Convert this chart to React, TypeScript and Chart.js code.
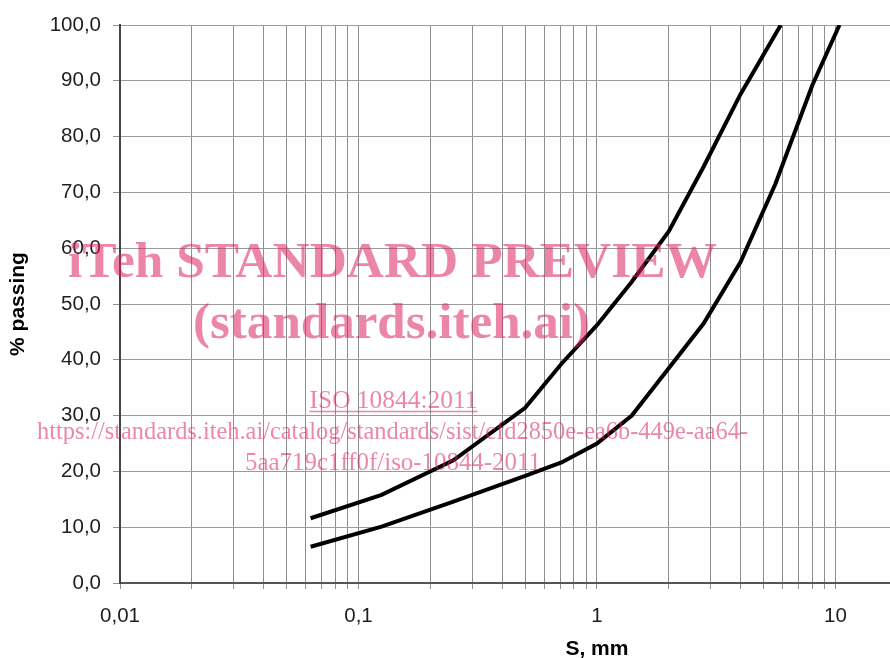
import React, { useEffect, useRef } from 'react';
import { Chart, registerables } from 'chart.js';

Chart.register(...registerables);

// Grading envelope (sieve size in mm, % passing)
const upperSizes = [0.063, 0.125, 0.25, 0.5, 0.71, 1, 1.4, 2, 2.8, 4, 5.9];
const upperPassing = [11.6, 15.8, 22.0, 31.4, 39.3, 46.2, 54.0, 63.0, 74.6, 87.6, 100];
const lowerSizes = [0.063, 0.125, 0.25, 0.5, 0.71, 1, 1.4, 2, 2.8, 4, 5.6, 8, 10.4];
const lowerPassing = [6.5, 10.1, 14.6, 19.2, 21.6, 25.0, 30.0, 38.5, 46.5, 57.5, 71.5, 89.2, 100];

// Axis ticks
const decadeTicks = [0.01, 0.1, 1, 10, 100];
const decadeLabels = ['0,01', '0,1', '1', '10', '100'];
const minorMultipliers = [2, 3, 4, 5, 6, 7, 8, 9];
const yTickValues = [0, 10, 20, 30, 40, 50, 60, 70, 80, 90, 100];

const xTitle = 'S, mm';
const yTitle = '% passing';

const watermarkTexts = [
  'iTeh STANDARD PREVIEW',
  '(standards.iteh.ai)',
  'ISO 10844:2011',
  'https://standards.iteh.ai/catalog/standards/sist/cfd2850e-ea6b-449e-aa64-',
  '5aa719c1ff0f/iso-10844-2011',
];

const SANS = "'Liberation Sans', Arial, sans-serif";
const SERIF = "'Liberation Serif', 'Times New Roman', serif";

const watermarkLayout = [
  { font: `bold 51px ${SERIF}`, cx: 392.5, y: 277, w: 649, underline: false },
  { font: `bold 51px ${SERIF}`, cx: 391.5, y: 338, w: 397, underline: false },
  { font: `25px ${SERIF}`, cx: 393.5, y: 408, w: 168, underline: true },
  { font: `24.5px ${SERIF}`, cx: 392.5, y: 439, w: 711, underline: false },
  { font: `24.5px ${SERIF}`, cx: 393, y: 470, w: 296, underline: false },
];

const watermarkPlugin = {
  id: 'watermark',
  afterDraw(chart: any) {
    const ctx = chart.ctx as CanvasRenderingContext2D;
    ctx.save();
    ctx.fillStyle = 'rgba(220,35,97,0.55)';
    ctx.strokeStyle = 'rgba(220,35,97,0.55)';
    ctx.textAlign = 'center';
    ctx.textBaseline = 'alphabetic';
    watermarkTexts.forEach((text, i) => {
      const l = watermarkLayout[i];
      ctx.font = l.font;
      const mw = ctx.measureText(text).width;
      ctx.save();
      ctx.translate(l.cx, l.y);
      ctx.scale(l.w / mw, 1);
      ctx.fillText(text, 0, 0);
      ctx.restore();
      if (l.underline) {
        ctx.lineWidth = 1.5;
        ctx.beginPath();
        ctx.moveTo(l.cx - l.w / 2, l.y + 3.5);
        ctx.lineTo(l.cx + l.w / 2, l.y + 3.5);
        ctx.stroke();
      }
    });
    ctx.restore();
  },
};

export default function App() {
  const ref = useRef<HTMLCanvasElement>(null);

  useEffect(() => {
    if (!ref.current) return;
    const xGridValues: number[] = [];
    decadeTicks.forEach((d, i) => {
      xGridValues.push(d);
      if (i < decadeTicks.length - 1) minorMultipliers.forEach((m) => xGridValues.push(+(d * m).toPrecision(6)));
    });

    const chart = new Chart(ref.current, {
      type: 'line',
      data: {
        datasets: [
          {
            label: 'upper',
            data: upperSizes.map((x, i) => ({ x, y: upperPassing[i] })),
            borderColor: '#000',
            borderWidth: 4,
            pointRadius: 0,
            tension: 0,
            fill: false,
          },
          {
            label: 'lower',
            data: lowerSizes.map((x, i) => ({ x, y: lowerPassing[i] })),
            borderColor: '#000',
            borderWidth: 4,
            pointRadius: 0,
            tension: 0,
            fill: false,
          },
        ],
      },
      options: {
        animation: false,
        responsive: false,
        events: [],
        layout: { padding: { left: 0, top: 25, right: 20, bottom: 0 } },
        plugins: { legend: { display: false }, tooltip: { enabled: false } },
        scales: {
          x: {
            type: 'logarithmic',
            min: 0.01,
            max: 100,
            afterBuildTicks: (scale: any) => {
              scale.ticks = xGridValues.map((v) => ({ value: v }));
            },
            afterFit: (scale: any) => {
              scale.height = 81;
            },
            ticks: {
              autoSkip: false,
              maxRotation: 0,
              minRotation: 0,
              padding: 15,
              color: '#1e1e1e',
              font: { family: SANS, size: 20.5 },
              callback: (v: any) => {
                const idx = decadeTicks.findIndex((d) => Math.abs(d - Number(v)) < 1e-9);
                return idx >= 0 ? decadeLabels[idx] : '';
              },
            },
            grid: { color: '#8f8f8f', lineWidth: 1, tickLength: 6, tickColor: '#8f8f8f' },
            border: { color: '#555', width: 2 },
            title: {
              display: true,
              text: xTitle,
              color: '#000',
              font: { family: SANS, size: 21, weight: 'bold' },
              padding: { top: 0, bottom: 2 },
            },
          },
          y: {
            type: 'linear',
            min: 0,
            max: 100,
            afterBuildTicks: (scale: any) => {
              scale.ticks = yTickValues.map((v) => ({ value: v }));
            },
            afterFit: (scale: any) => {
              scale.width = 120;
            },
            ticks: {
              padding: 12,
              color: '#1e1e1e',
              font: { family: SANS, size: 20.5 },
              callback: (v: any) => Number(v).toFixed(1).replace('.', ','),
            },
            grid: { color: '#9a9a9a', lineWidth: 1, tickLength: 7, tickColor: '#8f8f8f' },
            border: { color: '#444', width: 2 },
            title: {
              display: true,
              text: yTitle,
              color: '#000',
              font: { family: SANS, size: 21, weight: 'bold' },
              padding: { top: 6, bottom: 0 },
            },
          },
        },
      },
      plugins: [watermarkPlugin],
    } as any);
    return () => chart.destroy();
  }, []);

  return (
    <div style={{ position: 'absolute', left: 0, top: 0, width: 890, height: 658, overflow: 'hidden', background: '#fff' }}>
      <canvas ref={ref} width={1106} height={664} style={{ display: 'block' }} />
    </div>
  );
}
